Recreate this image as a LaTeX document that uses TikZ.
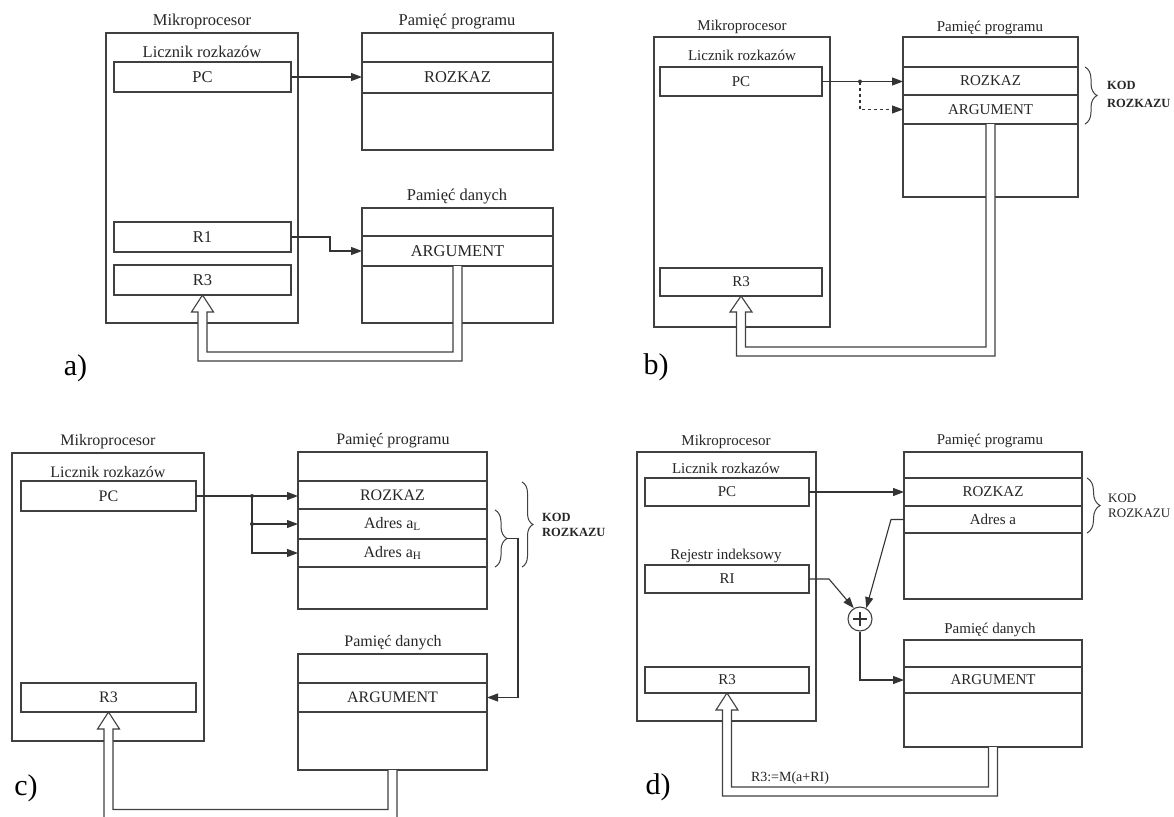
\documentclass[tikz,border=0pt]{standalone}
\usepackage{fontspec}
\setmainfont{Liberation Serif}
\usetikzlibrary{arrows.meta,decorations.pathreplacing,calc,fit}
\newcommand{\rbox}[6]{\node[bx,fit={(#2,#3) (#4,#5)}] (#1) {};\node[txt] at (#1.center) {#6};}
% hollow (double) arrow: #1 start, #2 tip, #3 coordinate giving the bottom run, #4 head length
\newcommand{\hollow}[4]{%
\filldraw[hd] ($(#1)+(-4.5,0)$) -- ($(#1 |- #3)+(-4.5,-4.5)$) -- ($(#2 |- #3)+(4.5,-4.5)$)
 -- ($(#2)+(4.5,#4)$) -- ($(#2)+(11,#4)$) -- (#2) -- ($(#2)+(-11,#4)$) -- ($(#2)+(-4.5,#4)$)
 -- ($(#2 |- #3)+(-4.5,4.5)$) -- ($(#1 |- #3)+(4.5,4.5)$) -- ($(#1)+(4.5,0)$);}
\begin{document}
\begin{tikzpicture}[x=1pt,y=-1pt,
  bx/.style={draw=black!75,line width=1.1pt,inner sep=0pt,outer sep=0pt},
  txt/.style={inner sep=0pt,text=black!85},
  arr/.style={draw=black!80,line width=1.1pt,-{Triangle[length=11pt,width=8pt]}},
  hd/.style={draw=black!75,fill=white,line width=1.1pt,line join=miter},
  brc/.style={draw=black!75,line width=1pt,decorate,decoration={brace,amplitude=12pt}},
  dot/.style={fill=black!80},
  kodb/.style={inner sep=0pt,anchor=west,text=black!85,font=\fontsize{12.5}{14}\selectfont\bfseries},
  kodr/.style={inner sep=0pt,anchor=west,text=black!85,font=\fontsize{13}{14}\selectfont},
  lett/.style={inner sep=0pt,text=black,font=\fontsize{30}{32}\selectfont}]
\useasboundingbox (0,0) rectangle (1174,816);
\fill[white] (0,0) rectangle (1174,816);

% ---------------- panel a
\begin{scope}[font=\fontsize{16.5}{18}\selectfont]
\node[bx,fit={(106,33) (298,323)}] (mpA) {};
\node[txt] (tA1) at (202,22) {Mikroprocesor};
\node[txt] (tA2) at (202,52) {Licznik rozkazów};
\rbox{pcA}{114}{62}{291}{92}{PC}
\rbox{r1A}{114}{222}{291}{252}{R1}
\rbox{r3A}{114}{265}{291}{295}{R3}
\node[bx,fit={(362,33) (553,150)}] (pmA) {};
\node[txt] (tA3) at (457,22) {Pamięć programu};
\rbox{rozA}{362}{62}{553}{93}{ROZKAZ}
\node[bx,fit={(362,208) (553,323)}] (dmA) {};
\node[txt] (tA4) at (457,197) {Pamięć danych};
\rbox{argA}{362}{236}{553}{266}{ARGUMENT}
\draw[arr] (pcA.east) -- (pcA.east -| rozA.west);
\draw[arr] (r1A.east) -- ++(39,0) |- (argA.west);
\coordinate (bA) at (0,356.5);
\hollow{argA.south}{r3A.south}{bA}{17}
\end{scope}
\node[lett] (la) at (75.5,368) {a)};

% ---------------- panel b
\begin{scope}[font=\fontsize{15}{17}\selectfont]
\node[bx,fit={(654,37) (830,327)}] (mpB) {};
\node[txt] (tB1) at (742,27) {Mikroprocesor};
\node[txt] (tB2) at (742,55) {Licznik rozkazów};
\rbox{pcB}{660}{67}{822}{96}{PC}
\rbox{r3B}{660}{268}{822}{296}{R3}
\node[bx,fit={(903,37) (1078,197)}] (pmB) {};
\node[txt] (tB3) at (990,28) {Pamięć programu};
\rbox{rozB}{903}{67}{1078}{95}{ROZKAZ}
\rbox{argB}{903}{95}{1078}{124}{ARGUMENT}
\draw[arr] (pcB.east) -- (pcB.east -| rozB.west);
\coordinate (jB) at (860,81.5);
\fill[dot] (jB) circle[radius=2pt];
\draw[arr,dashed] (jB) |- (argB.west);
\draw[brc] (1085,67) -- (1085,124);
\node[kodb] (kB1) at (1107,85) {KOD};
\node[kodb] (kB2) at (1107,103) {ROZKAZU};
\coordinate (bB) at (0,351.5);
\hollow{argB.south}{r3B.south}{bB}{16}
\end{scope}
\node[lett] (lb) at (656,367) {b)};

% ---------------- panel c
\begin{scope}[font=\fontsize{16}{18}\selectfont]
\node[bx,fit={(12,453) (204,741)}] (mpC) {};
\node[txt] (tC1) at (108,442) {Mikroprocesor};
\node[txt] (tC2) at (108,472) {Licznik rozkazów};
\rbox{pcC}{21}{481}{196}{511}{PC}
\rbox{r3C}{21}{683}{196}{712}{R3}
\node[bx,fit={(298,452) (487,609)}] (pmC) {};
\node[txt] (tC3) at (393,441) {Pamięć programu};
\rbox{rozC}{298}{481}{487}{509}{ROZKAZ}
\rbox{aLC}{298}{509}{487}{539}{Adres a\textsubscript{L}}
\rbox{aHC}{298}{539}{487}{567}{Adres a\textsubscript{H}}
\node[bx,fit={(298,654) (487,770)}] (dmC) {};
\node[txt] (tC4) at (393,643) {Pamięć danych};
\rbox{argC}{298}{683}{487}{712}{ARGUMENT}
\draw[arr] (pcC.east) -- (pcC.east -| rozC.west);
\coordinate (jC1) at (252,496);
\coordinate (jC2) at (252,524);
\fill[dot] (jC1) circle[radius=2pt];
\fill[dot] (jC2) circle[radius=2pt];
\draw[arr] (jC1) |- (aHC.west);
\draw[arr] (jC2) -- (jC2 -| aLC.west);
\draw[brc] (495,510) -- (495,567);
\coordinate (btC) at (507,538.5);
\draw[arr] (btC) -- (518,538.5) |- (argC.east);
\draw[brc,decoration={brace,amplitude=11pt}] (522,482) -- (522,567);
\node[kodb] (kC1) at (542,517) {KOD};
\node[kodb] (kC2) at (542,532) {ROZKAZU};
\coordinate (bC) at (0,814);
\hollow{dmC.south}{r3C.south}{bC}{17}
\end{scope}
\node[lett] (lc) at (26,788) {c)};

% ---------------- panel d
\begin{scope}[font=\fontsize{15}{17}\selectfont]
\node[bx,fit={(637,452) (816,721)}] (mpD) {};
\node[txt] (tD1) at (726,442) {Mikroprocesor};
\node[txt] (tD2) at (726,468) {Licznik rozkazów};
\rbox{pcD}{645}{478}{809}{506}{PC}
\node[txt] (tD3) at (726,556) {Rejestr indeksowy};
\rbox{riD}{645}{565}{809}{593}{RI}
\rbox{r3D}{645}{667}{809}{693}{R3}
\node[bx,fit={(904,452) (1082,599)}] (pmD) {};
\node[txt] (tD4) at (990,441) {Pamięć programu};
\rbox{rozD}{904}{478}{1082}{506}{ROZKAZ}
\rbox{adrD}{904}{506}{1082}{533}{Adres a}
\node[bx,fit={(904,640) (1082,747)}] (dmD) {};
\node[txt] (tD5) at (990,630) {Pamięć danych};
\rbox{argD}{904}{667}{1082}{693}{ARGUMENT}
\node[draw=black!75,line width=1.1pt,circle,minimum size=24pt,inner sep=0pt] (add) at (860,619) {};
\draw[black!80,line width=1.6pt] ($(add.center)+(-7,0)$) -- ($(add.center)+(7,0)$);
\draw[black!80,line width=1.6pt] ($(add.center)+(0,-7)$) -- ($(add.center)+(0,7)$);
\draw[arr] (pcD.east) -- (pcD.east -| rozD.west);
\draw[arr] (adrD.west) -- ++(-13,0) -- (add.60);
\draw[arr] (riD.east) -- ++(20,0) -- (add.120);
\draw[arr] (add.south) |- (argD.west);
\draw[brc,decoration={brace,amplitude=13pt}] (1087,478) -- (1087,533);
\node[kodr] (kD1) at (1108,498) {KOD};
\node[kodr] (kD2) at (1108,513) {ROZKAZU};
\coordinate (bD) at (0,791.5);
\hollow{dmD.south}{r3D.south}{bD}{17}
\node[txt,font=\fontsize{14}{16}\selectfont] (eqD) at (790,778) {R3:=M(a+RI)};
\end{scope}
\node[lett] (ld) at (658,787) {d)};
\end{tikzpicture}
\end{document}
